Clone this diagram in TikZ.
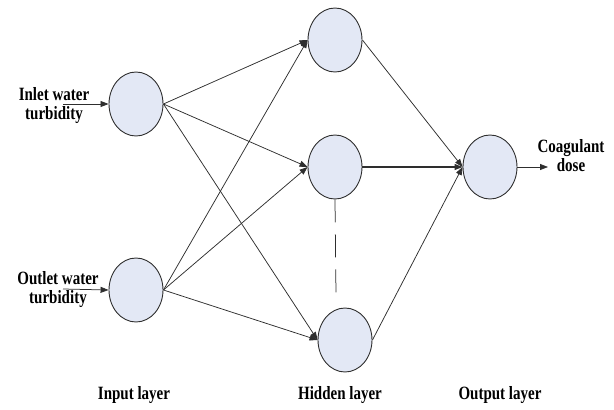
\documentclass[tikz,border=0pt]{standalone}
\usepackage{fontspec}
\setmainfont{Liberation Serif}
\usepackage{graphicx}
\usetikzlibrary{shapes.geometric,arrows.meta}
\definecolor{nodefill}{HTML}{E3E8F5}
\definecolor{ink}{HTML}{2E2E2E}
% labels are set a little taller than wide
\newcommand{\talltext}[1]{\scalebox{1}[1.25]{#1}}
\begin{document}
\begin{tikzpicture}[x=1pt,y=-1pt,
  neuron/.style={ellipse, draw=ink, line width=0.9pt, fill=nodefill,
    minimum width=54pt, minimum height=64pt, inner sep=0pt},
  link/.style={draw=ink, line width=0.75pt, -{Triangle[length=8pt,width=6pt]}},
  lbl/.style={font=\fontsize{15}{14.4}\selectfont\bfseries, align=center, inner sep=0pt}]
\useasboundingbox (0,0) rectangle (614,410);

% neurons
\node[neuron] (I1) at (136,104) {};
\node[neuron] (I2) at (136,290) {};
\node[neuron] (H1) at (335,40) {};
\node[neuron] (H2) at (335,167) {};
\node[neuron] (H3) at (345,340) {};
\node[neuron] (O)  at (490,167) {};

% input and output labels
\node[lbl] (inlet) at (54,106) {\talltext{\begin{tabular}{@{}c@{}}Inlet water\\turbidity\end{tabular}}};
\node[lbl] (outlet) at (58,290) {\talltext{\begin{tabular}{@{}c@{}}Outlet water\\turbidity\end{tabular}}};
\node[lbl] (dose) at (571,158) {\talltext{\begin{tabular}{@{}c@{}}Coagulant\\dose\end{tabular}}};

\coordinate (inA) at (63,104);
\coordinate (inB) at (63,289);
\coordinate (outA) at (548,167);
\draw[link] (inA) -- (I1.west);
\draw[link] (inB) -- (I2.west);
\draw[link] (O.east) -- (outA);

% input to hidden
\foreach \s in {I1,I2}{
  \foreach \t in {H1,H2,H3}{
    \draw[link] (\s.east) -- (\t.west);
  }
}

% hidden to output
\draw[link] (H1.east) -- (O.west);
\draw[link, line width=1.2pt] (H2.east) -- (O.west);
\draw[link] (H3.east) -- (O.west);

% omitted hidden neurons
\coordinate (dashEnd) at (336,295);
\draw[ink, line width=0.75pt, dash pattern=on 23pt off 12pt] (H2.south) -- (dashEnd);

% layer captions
\node[lbl] (capIn)  at (134,395) {\talltext{Input layer}};
\node[lbl] (capHid) at (340,395) {\talltext{Hidden layer}};
\node[lbl] (capOut) at (500,395) {\talltext{Output layer}};
\end{tikzpicture}
\end{document}
